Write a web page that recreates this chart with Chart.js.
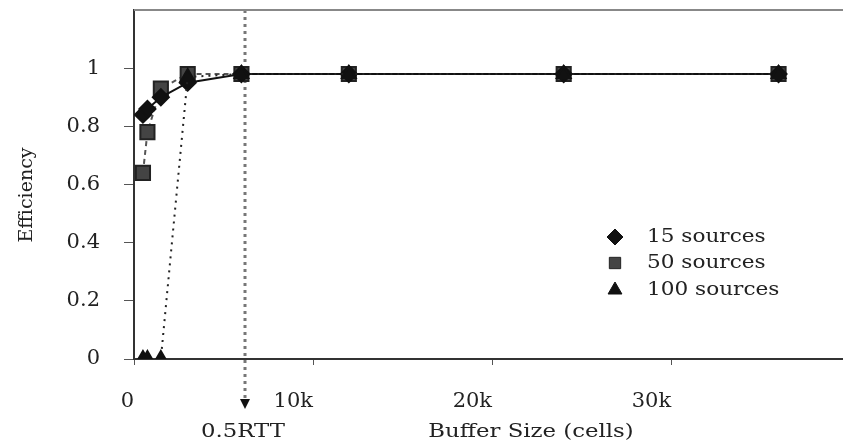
<!DOCTYPE html>
<html lang="en">
<head>
<meta charset="UTF-8">
<title>Efficiency vs Buffer Size</title>
<script src="https://cdn.jsdelivr.net/npm/chart.js"></script>
<style>
    html, body { margin: 0; padding: 0; background: #fff; }
    .wrap { width: 843px; height: 446px; position: relative; }
</style>
</head>
<body>
<div class="wrap"><canvas id="effChart" width="843" height="446"></canvas></div>
<script>
    // buffer sizes (cells)
    const bufferSizes = [500, 750, 1500, 3000, 6000, 12000, 24000, 36000];
    const eff15 = [0.84, 0.86, 0.90, 0.95, 0.98, 0.98, 0.98, 0.98];
    const eff50 = [0.64, 0.78, 0.93, 0.98, 0.98, 0.98, 0.98, 0.98];
    const eff100 = [0, 0, 0, 0.97, 0.98, 0.98, 0.98, 0.98];
    const seriesNames = ['15 sources', '50 sources', '100 sources'];
    const xTicks = [0, 10000, 20000, 30000];
    const xTickLabels = ['0', '10k', '20k', '30k'];
    const yTicks = [0, 0.2, 0.4, 0.6, 0.8, 1];
    const rttMark = 6200;

    const serif = '"DejaVu Serif", "Liberation Serif", serif';
    const ink = '#222';

    function pts(ys) {
        return bufferSizes.map((x, i) => ({ x: x, y: ys[i] }));
    }

    const markerStyles = [
        { style: 'rectRot', radius: 8, fill: '#111', stroke: '#111' },
        { style: 'rect', radius: 10, fill: '#444', stroke: '#222' },
        { style: 'triangle', radius: 8, fill: '#111', stroke: '#111' }
    ];

    // frame top line, 0.5RTT marker, titles and legend
    const extras = {
        id: 'extras',
        beforeDatasetsDraw(chart) {
            const { ctx, chartArea } = chart;
            const x = chart.scales.x.getPixelForValue(rttMark);
            ctx.save();
            ctx.strokeStyle = '#777';
            ctx.lineWidth = 3;
            ctx.setLineDash([3, 4]);
            ctx.beginPath();
            ctx.moveTo(x, chartArea.top);
            ctx.lineTo(x, 398);
            ctx.stroke();
            ctx.setLineDash([]);
            ctx.fillStyle = '#111';
            ctx.beginPath();
            ctx.moveTo(x - 5, 399);
            ctx.lineTo(x + 5, 399);
            ctx.lineTo(x, 409);
            ctx.closePath();
            ctx.fill();
            ctx.restore();
        },
        afterDraw(chart) {
            const { ctx, chartArea } = chart;
            ctx.save();
            // top border
            ctx.strokeStyle = '#888';
            ctx.lineWidth = 2;
            ctx.beginPath();
            ctx.moveTo(chartArea.left, chartArea.top);
            ctx.lineTo(chart.width, chartArea.top);
            ctx.stroke();

            ctx.fillStyle = ink;
            ctx.textBaseline = 'middle';
            ctx.textAlign = 'center';

            // 0.5RTT label
            const x = chart.scales.x.getPixelForValue(rttMark);
            ctx.save();
            ctx.translate(x - 2, 432);
            ctx.scale(1.2, 1);
            ctx.font = '19px ' + serif;
            ctx.fillText('0.5RTT', 0, 0);
            ctx.restore();

            // x title
            ctx.save();
            ctx.translate(531, 432);
            ctx.scale(1.2, 1);
            ctx.font = '19px ' + serif;
            ctx.fillText('Buffer Size (cells)', 0, 0);
            ctx.restore();

            // y title
            ctx.save();
            ctx.translate(27, 195);
            ctx.rotate(-Math.PI / 2);
            ctx.font = '19px ' + serif;
            ctx.fillText('Efficiency', 0, 0);
            ctx.restore();

            // legend
            const rowsY = [237, 263, 290];
            seriesNames.forEach((name, i) => {
                const m = markerStyles[i];
                ctx.fillStyle = m.fill;
                ctx.strokeStyle = m.stroke;
                ctx.lineWidth = 1;
                Chart.helpers.drawPoint(ctx, {
                    pointStyle: m.style, radius: 8, rotation: 0, borderWidth: 1
                }, 615, rowsY[i]);
                ctx.save();
                ctx.translate(647, rowsY[i]);
                ctx.scale(1.2, 1);
                ctx.fillStyle = ink;
                ctx.textAlign = 'left';
                ctx.font = '18px ' + serif;
                ctx.fillText(name, 0, 0);
                ctx.restore();
            });
            ctx.restore();
        }
    };

    const ctx = document.getElementById('effChart').getContext('2d');
    new Chart(ctx, {
        type: 'line',
        data: {
            datasets: [
                {
                    label: seriesNames[2],
                    data: pts(eff100),
                    borderColor: '#222',
                    borderWidth: 2,
                    borderDash: [2, 5],
                    pointStyle: markerStyles[2].style,
                    pointRadius: markerStyles[2].radius,
                    pointBackgroundColor: markerStyles[2].fill,
                    pointBorderColor: markerStyles[2].stroke,
                    tension: 0
                },
                {
                    label: seriesNames[0],
                    data: pts(eff15),
                    borderColor: '#111',
                    borderWidth: 2,
                    pointStyle: markerStyles[0].style,
                    pointRadius: markerStyles[0].radius,
                    pointBackgroundColor: markerStyles[0].fill,
                    pointBorderColor: markerStyles[0].stroke,
                    tension: 0
                },
                {
                    label: seriesNames[1],
                    data: pts(eff50),
                    borderColor: '#555',
                    borderWidth: 2,
                    borderDash: [5, 4],
                    pointStyle: markerStyles[1].style,
                    pointRadius: markerStyles[1].radius,
                    pointBackgroundColor: markerStyles[1].fill,
                    pointBorderColor: markerStyles[1].stroke,
                    tension: 0
                }
            ]
        },
        options: {
            responsive: false,
            animation: false,
            layout: { autoPadding: false, padding: { top: 10, right: 0, left: 0, bottom: 0 } },
            plugins: {
                legend: { display: false },
                tooltip: { enabled: false }
            },
            scales: {
                x: {
                    type: 'linear',
                    min: 0,
                    max: 39600,
                    afterFit(scale) {
                        scale.height = 87;
                        scale.paddingLeft = 0;
                        scale.paddingRight = 0;
                    },
                    afterBuildTicks(scale) { scale.ticks = xTicks.map(v => ({ value: v })); },
                    border: { color: '#333', width: 2 },
                    grid: { drawOnChartArea: false, drawTicks: true, tickLength: 6, color: '#555' },
                    ticks: {
                        align: 'end',
                        padding: 24,
                        color: ink,
                        font: { family: serif, size: 21 },
                        callback: (v) => xTickLabels[xTicks.indexOf(v)]
                    }
                },
                y: {
                    min: 0,
                    max: 1.2,
                    afterFit(scale) {
                        scale.width = 134;
                        scale.paddingTop = 0;
                        scale.paddingBottom = 0;
                    },
                    afterBuildTicks(scale) { scale.ticks = yTicks.map(v => ({ value: v })); },
                    border: { color: '#333', width: 2 },
                    grid: { drawOnChartArea: false, drawTicks: true, tickLength: 10, color: '#555' },
                    ticks: {
                        padding: 24,
                        color: ink,
                        font: { family: serif, size: 21 },
                        callback: (v) => String(Math.round(v * 10) / 10)
                    }
                }
            }
        },
        plugins: [extras]
    });
</script>
</body>
</html>
